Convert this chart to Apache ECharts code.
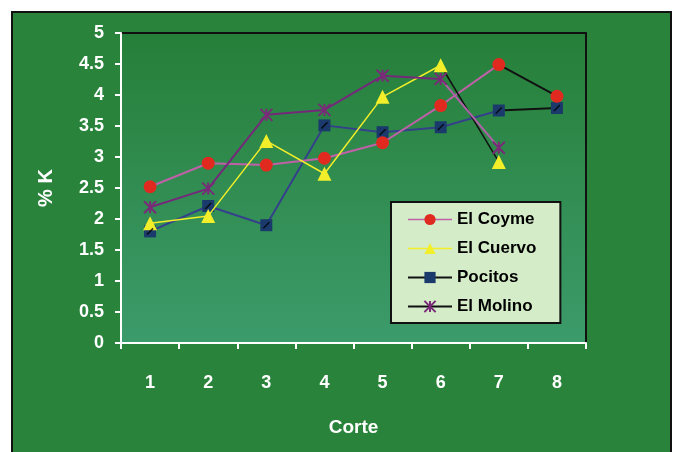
<!DOCTYPE html>
<html>
<head>
<meta charset="utf-8">
<script src="https://cdn.jsdelivr.net/npm/echarts@6/dist/echarts.min.js"></script>
<style>
html,body{margin:0;padding:0;background:#fff;}
#c{width:675px;height:452px;}
</style>
</head>
<body>
<div id="c"></div>
<script>
var categories = ['1','2','3','4','5','6','7','8'];
var elCoyme  = [2.52, 2.90, 2.87, 2.98, 3.23, 3.83, 4.49, 3.98];
var elCuervo = [1.93, 2.05, 3.26, 2.73, 3.97, 4.48, 2.92, null];
var pocitos  = [1.80, 2.21, 1.90, 3.51, 3.40, 3.48, 3.75, 3.79];
var elMolino = [2.19, 2.49, 3.68, 3.76, 4.31, 4.26, 3.15, null];
var seriesNames = ['El Coyme', 'El Cuervo', 'Pocitos', 'El Molino'];

var FONT = '"Liberation Sans", Arial, sans-serif';

function segGrad(colorA, colorB, frac) {
  return {
    type: 'linear', x: 0, y: 0, x2: 1, y2: 0,
    colorStops: [
      {offset: 0, color: colorA},
      {offset: frac, color: colorA},
      {offset: frac, color: colorB},
      {offset: 1, color: colorB}
    ]
  };
}

var molinoPath = 'path://M0,0L10,10M10,0L0,10M5,0L5,10';

var option = {
  animation: false,
  backgroundColor: '#ffffff',
  graphic: [{
    type: 'rect',
    z: -100,
    shape: {x: 12, y: 12, width: 659, height: 460},
    style: {fill: '#29833b', stroke: '#111', lineWidth: 2}
  }],
  grid: {
    left: 121, right: 89, top: 33, bottom: 109,
    show: true,
    borderColor: '#111',
    borderWidth: 2,
    backgroundColor: {
      type: 'linear', x: 0, y: 0, x2: 0, y2: 1,
      colorStops: [
        {offset: 0, color: '#267f38'},
        {offset: 1, color: '#3c9b6b'}
      ]
    }
  },
  legend: {
    orient: 'vertical',
    left: 391, top: 202,
    padding: [9, 24, 8, 16],
    itemGap: 12,
    itemWidth: 44,
    itemHeight: 14,
    backgroundColor: '#d4ecc8',
    borderColor: '#111',
    borderWidth: 2,
    textStyle: {fontFamily: FONT, fontWeight: 'bold', fontSize: 17, color: '#000'},
    data: [
      {name: 'El Coyme', lineStyle: {color: '#c060a8', width: 1.5}},
      {name: 'El Cuervo', lineStyle: {color: '#f2ee2a', width: 1.5}},
      {name: 'Pocitos', lineStyle: {color: '#111', width: 2}},
      {name: 'El Molino', lineStyle: {color: '#111', width: 2}}
    ]
  },
  xAxis: {
    type: 'category',
    data: categories,
    boundaryGap: true,
    name: 'Corte',
    nameLocation: 'middle',
    nameGap: 75,
    nameTextStyle: {fontFamily: FONT, fontWeight: 'bold', fontSize: 19, color: '#fff'},
    axisLine: {lineStyle: {color: '#fff', width: 2}},
    axisTick: {show: true, length: 6, lineStyle: {color: '#fff', width: 2}},
    axisLabel: {fontFamily: FONT, fontWeight: 'bold', fontSize: 18, color: '#fff', margin: 31},
    splitLine: {show: false}
  },
  yAxis: {
    type: 'value',
    min: 0, max: 5, interval: 0.5,
    name: '% K',
    nameLocation: 'middle',
    nameGap: 65,
    nameTextStyle: {fontFamily: FONT, fontWeight: 'bold', fontSize: 20, color: '#fff'},
    axisLine: {show: true, lineStyle: {color: '#fff', width: 2}},
    axisTick: {show: true, length: 6, lineStyle: {color: '#fff', width: 2}},
    axisLabel: {fontFamily: FONT, fontWeight: 'bold', fontSize: 18, color: '#fff', margin: 17},
    splitLine: {show: false}
  },
  series: [
    {
      name: 'El Coyme', type: 'line', data: elCoyme, z: 3,
      symbol: 'circle', symbolSize: 13,
      itemStyle: {color: '#e02a20'},
      lineStyle: {color: segGrad('#c060a8', '#111', 6/7), width: 2}
    },
    {
      name: 'El Cuervo', type: 'line', data: elCuervo, z: 4,
      symbol: 'triangle', symbolSize: 14,
      itemStyle: {color: '#f2ee2a'},
      lineStyle: {color: segGrad('#f2ee2a', '#111', 5/6), width: 1.5}
    },
    {
      name: 'Pocitos', type: 'line', data: pocitos, z: 2,
      symbol: 'rect', symbolSize: 12,
      itemStyle: {color: '#1b3a6c'},
      lineStyle: {color: segGrad('#34408a', '#111', 6/7), width: 2}
    },
    {
      name: 'El Molino', type: 'line', data: elMolino, z: 5,
      symbol: molinoPath, symbolSize: 12,
      itemStyle: {color: 'rgba(0,0,0,0)', borderColor: '#7a2a78', borderWidth: 2},
      lineStyle: {color: segGrad('#74287a', '#b060a8', 5/6), width: 2}
    },
    {
      name: 'pocitosMark', type: 'scatter', data: pocitos, z: 6, silent: true,
      symbol: 'path://M0,8L8,0', symbolSize: 6,
      itemStyle: {color: 'rgba(0,0,0,0)', borderColor: '#000', borderWidth: 1.5}
    },
    {
      name: 'molinoMark', type: 'scatter', data: elMolino, z: 6, silent: true,
      symbol: 'path://M0,0L0,10', symbolSize: [2, 8],
      itemStyle: {color: 'rgba(0,0,0,0)', borderColor: '#000', borderWidth: 2}
    }
  ]
};

var chart = echarts.init(document.getElementById('c'), null, {renderer: 'canvas'});
chart.setOption(option);
</script>
</body>
</html>
